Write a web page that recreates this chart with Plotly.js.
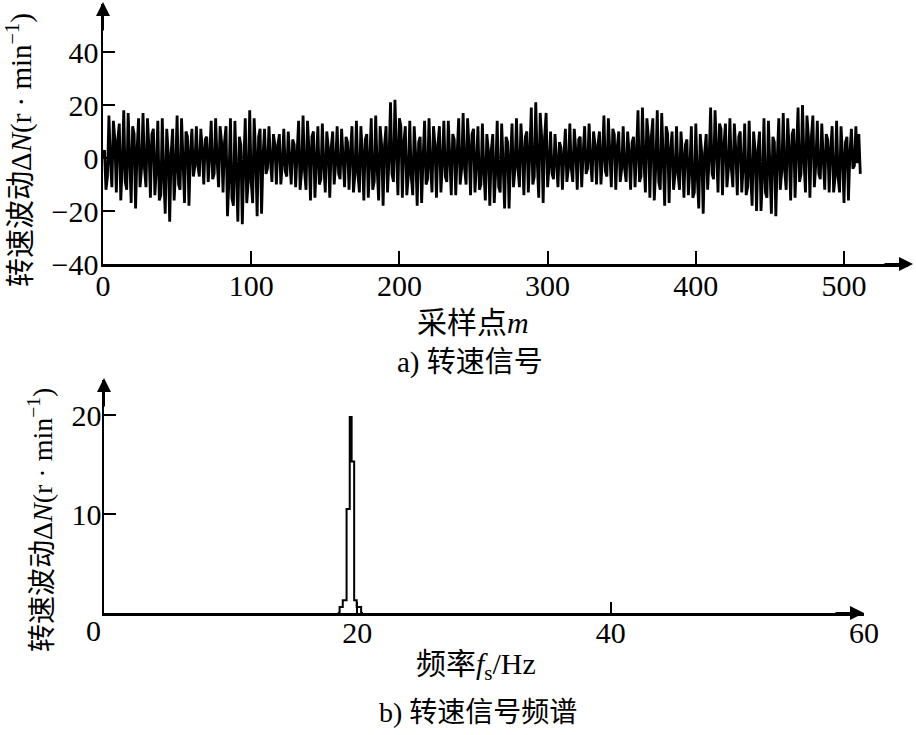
<!DOCTYPE html>
<html>
<head>
<meta charset="utf-8">
<script src="https://cdn.plot.ly/plotly-3.0.1.min.js"></script>
<style>html,body{margin:0;padding:0;background:#fff;}#chart{width:916px;height:735px;}</style>
</head>
<body>
<div id="chart"></div>
<script>
// ---- data ----
const speedSignal = [
0,3,-12,-7,16,-1,-11,14,7,-13,7,13,
-16,-3,18,-9,-12,17,0,-17,12,9,-19,3,
15,-11,-4,17,-4,-11,15,4,-15,9,11,-14,
-4,14,-16,-14,15,-7,-21,11,2,-24,2,11,
-16,-4,16,-10,-12,15,-1,-17,10,8,-18,2,
11,-7,-3,12,-3,-7,11,3,-10,7,8,-9,
1,14,-8,-6,15,-1,-11,12,6,-13,6,12,
-22,-8,15,-15,-18,14,-5,-24,8,5,-25,-2,
15,-17,-9,18,-9,-17,15,1,-22,8,11,-21,
1,11,-6,-4,12,-1,-9,9,5,-10,5,9,
-10,-2,11,-5,-7,10,0,-10,7,5,-11,2,
14,-12,-5,16,-5,-12,14,3,-16,8,10,-15,
-1,12,-10,-8,13,-3,-13,10,4,-15,4,10,
-10,-2,12,-6,-8,11,0,-11,8,6,-12,2,
12,-13,-6,14,-6,-13,12,2,-16,7,9,-15,
-1,15,-12,-9,16,-4,-16,12,5,-18,5,12,
-13,0,21,-6,-9,22,3,-14,15,12,-15,6,
12,-14,-7,14,-7,-14,12,1,-18,6,8,-17,
0,14,-10,-8,15,-3,-13,12,5,-15,5,12,
-13,-2,14,-7,-9,14,0,-14,9,7,-14,2,
15,-10,-4,17,-4,-10,15,4,-14,9,11,-13,
-2,12,-12,-10,13,-5,-16,9,3,-18,3,9,
-17,-5,14,-11,-13,13,-2,-19,8,6,-19,0,
13,-11,-4,15,-4,-11,13,3,-14,8,10,-13,
2,19,-10,-7,21,-1,-15,17,8,-17,8,17,
-11,-3,10,-6,-8,9,-1,-11,6,4,-12,1,
11,-9,-4,13,-4,-9,11,3,-12,7,8,-11,
2,12,-6,-4,13,-1,-9,10,5,-10,5,10,
-10,0,16,-5,-7,15,2,-11,11,9,-12,4,
10,-9,-4,12,-4,-9,10,2,-12,6,8,-11,
2,18,-9,-7,19,-1,-13,15,8,-15,8,15,
-16,-3,18,-9,-12,17,0,-18,12,9,-17,3,
10,-12,-6,12,-6,-12,10,1,-15,5,7,-14,
-4,12,-15,-13,13,-7,-19,9,2,-21,2,9,
-12,0,19,-6,-8,18,3,-13,13,11,-14,5,
13,-11,-4,15,-4,-11,13,3,-14,8,10,-13,
-3,13,-14,-11,14,-6,-18,10,3,-20,3,10,
-20,-7,15,-13,-15,14,-3,-21,8,6,-22,0,
15,-12,-5,17,-5,-12,15,3,-16,9,11,-15,
3,19,-9,-6,20,-1,-13,16,8,-15,8,16,
-11,-2,14,-6,-8,13,0,-12,9,7,-13,3,
12,-13,-7,14,-7,-13,12,1,-17,6,8,-16,
2,11,-4,-3,12,-2,9,-6
];
const sampleIndex = speedSignal.map((_, i) => i);

const specFreq = [18.45, 18.6, 18.85, 19.15, 19.4, 19.55, 19.75, 19.95, 20.3, 20.45];
const specAmp  = [0,     0.6,  1.3,   10.5,  19.8, 15.3,  1.3,   0.6,   0,    0];

const topXTicks = [0, 100, 200, 300, 400, 500];
const topYTicks = [-40, -20, 0, 20, 40];
const botXTicks = [20, 40, 60];
const botYTicks = [10, 20];

// ---- layout helpers (pixel -> paper) ----
const W = 916, H = 735;
const px = v => v / W;
const py = v => 1 - v / H;

const serif = "'Liberation Serif', 'Times New Roman', 'Noto Sans CJK SC', serif";
const cjk = "'Liberation Serif', 'Noto Sans CJK SC', serif";

const axisCommon = {
  showline: true, linecolor: '#000', linewidth: 2.5,
  showgrid: false, zeroline: false,
  ticks: 'inside', tickcolor: '#000', tickwidth: 2,
  tickfont: {family: serif, size: 30, color: '#000'},
  fixedrange: true
};

const data = [
  {x: sampleIndex, y: speedSignal, xaxis: 'x', yaxis: 'y', type: 'scatter', mode: 'lines',
   line: {color: '#000', width: 2.8, simplify: false}, hoverinfo: 'skip'},
  {x: specFreq, y: specAmp, xaxis: 'x2', yaxis: 'y2', type: 'scatter', mode: 'lines',
   line: {color: '#000', width: 2, shape: 'hv', simplify: false}, hoverinfo: 'skip'}
];

const layout = {
  width: W, height: H,
  margin: {l: 0, r: 0, t: 0, b: 0},
  paper_bgcolor: '#fff', plot_bgcolor: 'rgba(0,0,0,0)',
  showlegend: false,
  xaxis: Object.assign({}, axisCommon, {
    domain: [px(103), px(908)], range: [0, (908 - 103) / 1.482],
    anchor: 'y', tickvals: topXTicks, ticklen: 13, ticklabelstandoff: -7
  }),
  yaxis: Object.assign({}, axisCommon, {
    domain: [py(264), py(4)], range: [-40, -40 + (264 - 4) / 2.65],
    anchor: 'x', tickvals: topYTicks, ticklen: 12, ticklabelstandoff: -4
  }),
  xaxis2: Object.assign({}, axisCommon, {
    domain: [px(104), px(864)], range: [0, 60],
    anchor: 'y2', tickvals: botXTicks, ticklen: 11, ticklabelstandoff: -9
  }),
  yaxis2: Object.assign({}, axisCommon, {
    domain: [py(613), py(380)], range: [0, (613 - 380) / 9.9],
    anchor: 'x2', tickvals: botYTicks, ticklen: 12, ticklabelstandoff: -6
  }),
  annotations: [
    // axis arrows
    {xref: 'paper', yref: 'paper', x: px(103), y: py(2), ax: 0, ay: 30, showarrow: true,
     arrowhead: 2, arrowsize: 1.4, arrowwidth: 2, arrowcolor: '#000', text: ''},
    {xref: 'paper', yref: 'paper', x: px(913), y: py(264), ax: -30, ay: 0, showarrow: true,
     arrowhead: 2, arrowsize: 1.4, arrowwidth: 2, arrowcolor: '#000', text: ''},
    {xref: 'paper', yref: 'paper', x: px(104), y: py(378), ax: 0, ay: 30, showarrow: true,
     arrowhead: 2, arrowsize: 1.4, arrowwidth: 2, arrowcolor: '#000', text: ''},
    {xref: 'paper', yref: 'paper', x: px(864), y: py(613), ax: -30, ay: 0, showarrow: true,
     arrowhead: 2, arrowsize: 1.4, arrowwidth: 2, arrowcolor: '#000', text: ''},
    // titles
    {xref: 'paper', yref: 'paper', x: px(19), y: py(150), textangle: -90, showarrow: false,
     xanchor: 'center', yanchor: 'middle',
     text: '转速波动Δ<i>N</i>(r · min<sup>−1</sup>)', font: {family: cjk, size: 29, color: '#000'}},
    {xref: 'paper', yref: 'paper', x: px(40), y: py(520), textangle: -90, showarrow: false,
     xanchor: 'center', yanchor: 'middle',
     text: '转速波动Δ<i>N</i>(r · min<sup>−1</sup>)', font: {family: cjk, size: 28, color: '#000'}},
    {xref: 'paper', yref: 'paper', x: px(473), y: py(322), showarrow: false,
     xanchor: 'center', yanchor: 'middle',
     text: '采样点<i>m</i>', font: {family: cjk, size: 30, color: '#000'}},
    {xref: 'paper', yref: 'paper', x: px(470), y: py(362), showarrow: false,
     xanchor: 'center', yanchor: 'middle',
     text: 'a) 转速信号', font: {family: cjk, size: 29, color: '#000'}},
    {xref: 'paper', yref: 'paper', x: px(476), y: py(666), showarrow: false,
     xanchor: 'center', yanchor: 'middle',
     text: '频率<i>f</i><sub>s</sub>/Hz', font: {family: cjk, size: 30, color: '#000'}},
    {xref: 'paper', yref: 'paper', x: px(478), y: py(712), showarrow: false,
     xanchor: 'center', yanchor: 'middle',
     text: 'b) 转速信号频谱', font: {family: cjk, size: 28, color: '#000'}},
    // shared origin label of lower chart
    {xref: 'paper', yref: 'paper', x: px(93), y: py(630), showarrow: false,
     xanchor: 'center', yanchor: 'middle',
     text: '0', font: {family: serif, size: 30, color: '#000'}}
  ]
};

Plotly.newPlot('chart', data, layout, {staticPlot: true, displayModeBar: false});
</script>
</body>
</html>
